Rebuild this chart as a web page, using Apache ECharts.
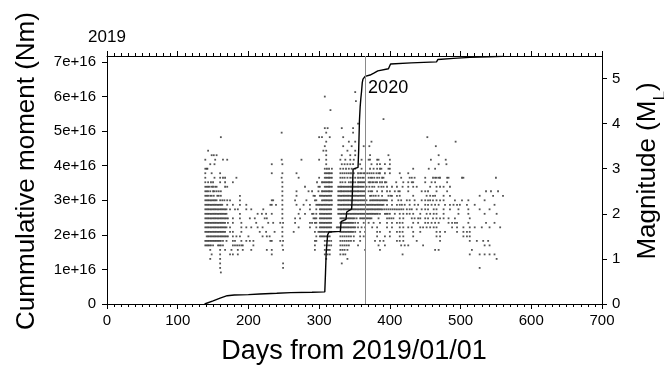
<!DOCTYPE html>
<html><head><meta charset="utf-8">
<script src="https://cdn.jsdelivr.net/npm/echarts@6/dist/echarts.min.js"></script>
<style>html,body{margin:0;padding:0;background:#fff}#c{width:664px;height:367px}</style>
</head><body><div id="c"></div>
<script>
// ---- data ----
// cumulative seismic moment curve (days from 2019/01/01, moment in units of 1e16 Nm)
const curveDays   = [138,150,160,170,180,200,216,240,260,290,308,309,310,312,314,330,331,338,339,346,347,348,355,356,357,358,359,360,361,362,365,372,378,383,398,401,430,466,468,490,513,540,560];
const curveMoment = [0,0.09,0.17,0.24,0.26,0.27,0.29,0.31,0.33,0.34,0.35,0.9,1.5,2.0,2.08,2.1,2.38,2.45,2.66,2.75,3.2,3.9,3.95,4.5,5.3,5.7,5.95,6.15,6.4,6.5,6.58,6.62,6.68,6.74,6.8,6.94,6.97,7.0,7.07,7.1,7.13,7.15,7.16];
// earthquakes: magnitude levels and the days on which events of that magnitude occurred
const magLevels = [4.7,4.6,4.5,4.3,4.1,4.0,3.9,3.8,3.7,3.6,3.5,3.4,3.3,3.2,3.1,3.0,2.9,2.8,2.7,2.6,2.5,2.4,2.3,2.2,2.1,2.0,1.9,1.8,1.7,1.6,1.5,1.4,1.3,1.2,1.1,1.0,0.9,0.8,0.7];
const quakeDays = [
 [351],
 [308],
 [352],
 [316],
 [391],
 [355],
 [308,312,332,348],
 [247,310,348],
 [161,300,304,315,334,453],
 [310,342,351,374,493],
 [308,334,346,363,371,465],
 [143,306,310,340,351],
 [148,151,155,310,332,344,351,372,398,469],
 [139,153,164,170,247,275,300,310,330,337,344,349,360,370,372,382,384,400,458,479],
 [146,152,233,248,310,332,336,340,344,348,358,374,382,386,393,400,469,480],
 [139,141,142,308,311,314,318,330,334,338,342,346,351,360,372,377,382,386,388,398,400,433,455,464],
 [139,148,160,233,248,268,308,310,312,314,316,318,330,333,336,339,342,345,349,355,358,360,363,365,368,371,374,377,381,384,386,393,400,414,426],
 [139,152,160,164,167,183,247,271,300,308,310,312,314,316,318,330,333,336,340,344,347,351,355,358,361,363,370,373,375,378,382,385,389,391,416,428,431,435,450,461,464,466,469,471,481,483,502,504,550],
 [139,143,147,150,160,167,178,248,297,304,306,308,310,312,314,316,318,330,333,337,342,345,348,351,355,357,359,361,363,365,370,372,375,377,380,382,386,389,393,395,409,419,426,431,433,450,459,464,481],
 [139,141,143,145,148,150,153,155,167,170,248,280,299,301,308,310,312,314,316,318,327,329,331,333,335,337,339,341,343,345,347,349,351,353,355,357,359,361,363,367,371,375,378,384,388,391,396,403,410,418,426,433,438,457,466,471,476,485],
 [139,141,143,146,150,152,155,158,161,248,268,285,290,299,304,306,308,310,312,314,316,318,327,329,331,333,335,337,339,341,343,345,347,349,351,353,355,357,359,361,363,365,370,373,375,382,389,396,400,407,412,414,426,445,450,454,466,481,536,543,553],
 [139,141,143,146,148,151,156,158,161,188,248,268,292,294,301,303,305,307,309,311,313,315,317,327,329,331,333,335,337,339,341,343,345,347,349,351,353,355,357,359,361,363,365,372,374,377,380,384,389,398,401,403,410,414,433,452,457,461,464,476,485,527,546,560],
 [139,141,143,145,147,149,151,153,155,160,163,166,170,174,188,233,235,248,266,282,294,296,304,306,308,310,312,314,316,318,327,329,331,333,335,337,339,341,343,345,347,349,351,353,355,357,359,361,363,365,367,372,374,376,378,380,382,384,386,388,390,392,394,396,403,412,416,424,428,435,445,450,454,457,461,466,471,476,492,502,511,534],
 [139,141,143,145,147,149,151,153,155,157,159,161,163,170,178,188,197,231,233,239,248,268,278,287,296,298,300,302,304,306,308,310,312,314,316,318,327,329,331,333,335,337,339,341,343,345,347,349,351,353,355,357,359,361,363,365,367,369,371,373,375,377,379,381,383,385,387,389,391,396,403,410,414,417,421,428,435,440,450,454,459,464,469,478,485,490,495,499,509,520,548],
 [139,141,143,145,147,149,151,153,155,157,159,161,163,165,167,169,174,181,185,197,204,221,248,273,287,296,301,303,305,307,309,311,313,315,317,327,329,331,333,335,337,339,341,343,345,347,349,351,353,355,357,359,361,363,365,367,369,371,373,375,377,379,381,383,385,387,389,392,395,398,401,404,407,410,413,416,419,424,428,431,438,445,450,454,462,466,476,485,497,511,527,541],
 [139,141,143,145,147,149,151,153,155,157,159,161,163,165,167,169,188,213,219,225,233,248,271,280,290,292,296,301,303,305,307,309,311,313,315,317,327,329,331,333,335,337,339,341,343,345,347,349,351,353,355,357,359,361,363,365,367,369,371,373,375,377,379,381,383,386,393,395,397,400,407,414,419,424,428,433,443,452,457,462,466,476,497,511,534,551],
 [139,141,143,145,147,149,151,153,155,157,159,161,163,165,167,169,171,178,188,202,209,223,226,248,266,273,292,294,296,301,303,305,307,309,311,313,315,317,330,332,334,336,338,340,342,344,346,348,350,353,358,360,362,364,366,368,370,372,374,384,396,399,402,405,414,419,431,435,440,443,450,454,461,466,471,476,483,492,513],
 [139,141,143,145,147,149,151,153,155,157,159,161,163,165,167,171,178,190,211,228,235,245,249,266,287,290,294,296,301,303,305,307,309,311,313,315,317,330,332,334,336,338,340,342,344,346,348,351,355,363,370,377,386,396,403,410,414,418,433,440,450,454,459,464,469,483,488,492,495,511,536,548],
 [139,141,143,145,147,149,151,153,155,157,159,161,163,165,167,169,174,190,197,204,213,220,248,271,287,296,301,303,305,307,309,311,313,315,317,325,327,329,331,333,335,337,339,341,343,345,347,349,351,355,360,365,375,382,396,403,414,419,426,431,443,447,452,457,462,466,488,495,504,513,520,530,541,556],
 [139,141,143,145,147,149,151,153,155,157,159,161,163,165,167,174,178,190,216,225,237,248,264,294,299,301,303,305,307,309,311,313,315,317,330,332,334,336,338,340,342,344,346,348,351,358,365,382,386,400,410,414,418,433,443,466,471,478,495,504,509,513],
 [141,143,145,147,149,151,153,155,157,159,161,163,165,167,169,171,178,183,188,200,220,226,230,248,296,301,303,305,307,309,311,313,315,330,333,336,339,342,345,349,358,363,382,393,400,414,419,433,466,471,504,509,513],
 [139,141,143,145,147,149,151,153,155,157,159,161,164,169,178,181,190,197,202,207,231,233,245,249,294,296,308,311,314,317,330,333,336,339,342,345,349,358,379,386,391,410,414,419,438,471,513,523,532,539],
 [139,141,143,145,147,150,157,159,161,164,178,181,184,187,190,192,207,248,294,308,311,314,317,330,333,336,339,342,355,384,393,416,421,426,447,534,541],
 [146,160,167,176,185,192,204,226,233,249,294,308,311,313,315,330,333,336,340,365,386,464,469,516],
 [148,160,174,178,185,233,308,312,315,330,334,337,418,513,527,534,541,548],
 [146,160,310,340,551],
 [160,249,332],
 [160,249,527],
 [161]
];
const xTickValues = [0,100,200,300,400,500,600,700];
const momentTickLabels = ['0','1e+16','2e+16','3e+16','4e+16','5e+16','6e+16','7e+16'];
const magTickLabels = ['0','1','2','3','4','5'];
const yearMarkDay = 365;
const yearLabels = ['2019','2020'];

// ---- build ----
const curveData = curveDays.map((d,i)=>[d, curveMoment[i]]);
const quakeData = [];
magLevels.forEach((m,i)=>quakeDays[i].forEach(d=>quakeData.push([d,m])));

const FONT = 'Liberation Sans, Arial, Helvetica, sans-serif';
const chart = echarts.init(document.getElementById('c'), null, {renderer:'canvas'});
const axisLine = {show:true, onZero:false, lineStyle:{color:'#000', width:1}};
const isInt = v => Math.abs(v - Math.round(v)) < 1e-6;

const option = {
  animation:false,
  backgroundColor:'#fff',
  grid:{left:107, right:62, top:56, bottom:63, containLabel:false},
  xAxis:[
    {type:'value', position:'bottom', min:0, max:700, interval:100,
     axisLine:axisLine, splitLine:{show:false},
     axisTick:{show:true, inside:false, length:5, lineStyle:{color:'#000'}},
     minorTick:{show:true, splitNumber:10, length:3, lineStyle:{color:'#000'}},
     axisLabel:{show:true, margin:9, color:'#000', fontSize:15, fontFamily:FONT,
       formatter:v=>xTickValues.indexOf(v)>=0?String(v):''}},
    {type:'value', position:'top', min:0, max:700, interval:100,
     axisLine:axisLine, splitLine:{show:false},
     axisTick:{show:true, inside:false, length:5, lineStyle:{color:'#000'}},
     minorTick:{show:true, splitNumber:10, length:3, lineStyle:{color:'#000'}},
     axisLabel:{show:false}}
  ],
  yAxis:[
    {type:'value', position:'left', min:0, max:7.17, interval:1,
     axisLine:axisLine, splitLine:{show:false},
     axisTick:{show:true, inside:false, length:5, lineStyle:{color:'#000'}},
     axisLabel:{show:true, margin:11, color:'#000', fontSize:15, fontFamily:FONT, showMaxLabel:false,
       formatter:v=>isInt(v)?momentTickLabels[Math.round(v)]:''}},
    {type:'value', position:'right', min:0, max:5.5, interval:1,
     axisLine:axisLine, splitLine:{show:false},
     axisTick:{show:true, inside:false, length:5, lineStyle:{color:'#000'}},
     axisLabel:{show:true, margin:10, color:'#000', fontSize:15, fontFamily:FONT, showMaxLabel:false,
       formatter:v=>isInt(v)?magTickLabels[Math.round(v)]:''}}
  ],
  series:[
    {type:'scatter', xAxisIndex:0, yAxisIndex:1, data:quakeData, symbol:'rect', symbolSize:[1.8,1.8],
     itemStyle:{color:'#2a2a2a'}, silent:true, z:2,
     markLine:{silent:true, symbol:['none','none'], label:{show:false},
       lineStyle:{color:'#8a8a8a', width:1, type:'solid'}, data:[{xAxis:yearMarkDay}]}},
    {type:'line', xAxisIndex:0, yAxisIndex:0, data:curveData, showSymbol:false, symbol:'none',
     lineStyle:{color:'#000', width:1.4}, silent:true, z:3}
  ]
};
chart.setOption(option);

const p0 = chart.convertToPixel({xAxisIndex:0}, 0);
const p365 = chart.convertToPixel({xAxisIndex:0}, yearMarkDay);
chart.setOption({graphic:[
  {type:'text', x:p0, y:37, style:{text:yearLabels[0], font:'17px '+FONT, fill:'#000', textAlign:'center', textVerticalAlign:'middle'}},
  {type:'text', x:p365+3, y:88, style:{text:yearLabels[1], font:'18px '+FONT, fill:'#000', textAlign:'left', textVerticalAlign:'middle'}},
  {type:'text', x:354, y:352, style:{text:'Days from 2019/01/01', font:'27px '+FONT, fill:'#000', textAlign:'center', textVerticalAlign:'middle'}},
  {type:'text', x:27, y:171, rotation:Math.PI/2, style:{text:'Cummulative moment (Nm)', font:'26px '+FONT, fill:'#000', textAlign:'center', textVerticalAlign:'middle'}},
  {type:'text', x:648, y:171, rotation:Math.PI/2, style:{
    text:'{n|Magnitude (M}{s|L}{n|)}', textAlign:'center', textVerticalAlign:'middle', fill:'#000',
    rich:{n:{fontSize:26, fontFamily:FONT, lineHeight:30, verticalAlign:'middle'},
          s:{fontSize:17, fontFamily:FONT, lineHeight:17, verticalAlign:'bottom', padding:[0,0,-6,0]}}}}
]});
</script>
</body></html>
